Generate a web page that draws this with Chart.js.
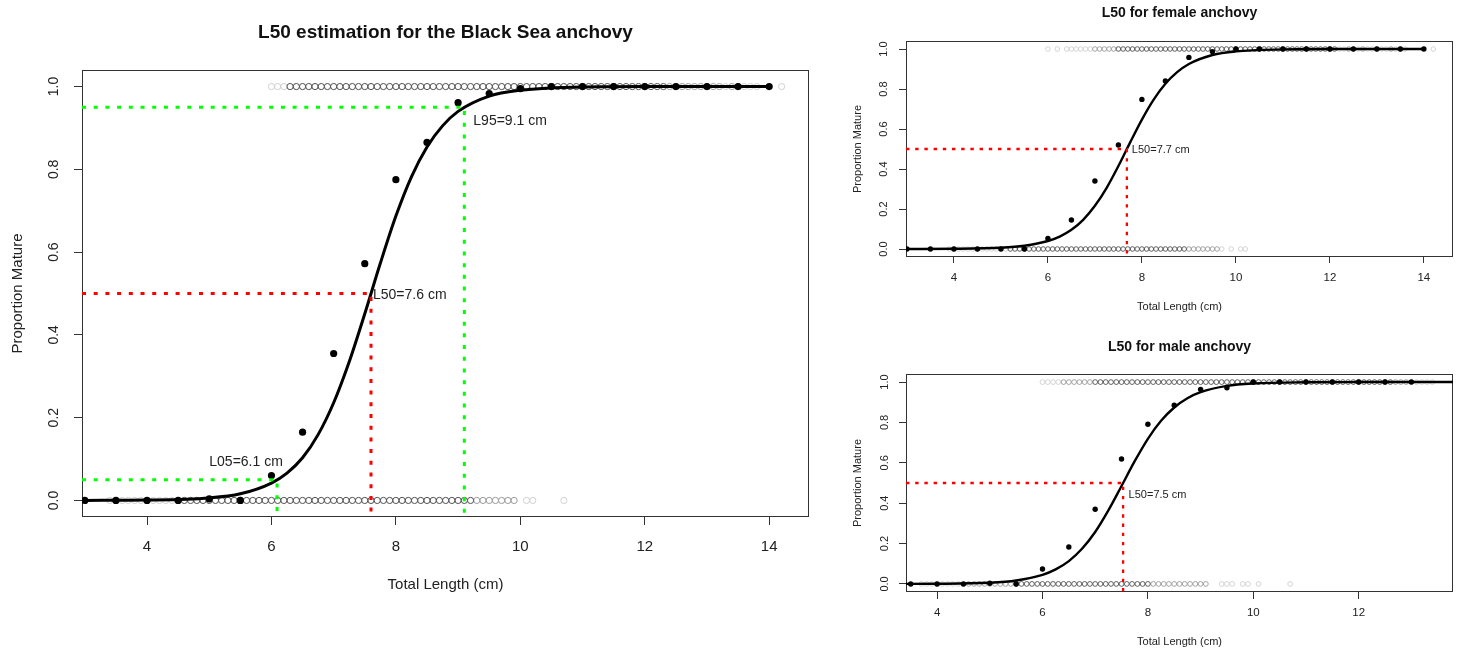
<!DOCTYPE html>
<html lang="en">
<head>
<meta charset="UTF-8">
<title>L50 estimation for the Black Sea anchovy</title>
<script src="https://cdn.jsdelivr.net/npm/chart.js@4.4.1/dist/chart.umd.min.js"></script>
<style>
  body { margin: 0; background: #fff; }
  .wrap { position: relative; width: 1461px; height: 650px; }
  canvas { position: absolute; }
  #allChart { left: 0; top: 0; }
  #femaleChart { left: 840px; top: 0; }
  #maleChart { left: 840px; top: 325px; }
</style>
</head>
<body>
<div class="wrap">
  <canvas id="allChart" width="840" height="650"></canvas>
  <canvas id="femaleChart" width="621" height="325"></canvas>
  <canvas id="maleChart" width="621" height="325"></canvas>
</div>

<script>
  const FONT = '"Liberation Sans", Arial, sans-serif';

  // axis ticks
  const yTicks = [0, 0.2, 0.4, 0.6, 0.8, 1.0];
  const xTicks = [4, 6, 8, 10, 12, 14];
  const maleXTicks = [4, 6, 8, 10, 12];
  const cutProps = [0.05, 0.5, 0.95];

  // ---- all fish ----
  // proportion mature per 0.5 cm length class
  const allLen = [3, 3.5, 4, 4.5, 5, 5.5, 6, 6.5, 7, 7.5, 8, 8.5, 9, 9.5, 10, 10.5, 11, 11.5, 12, 12.5, 13, 13.5, 14];
  const allProp = [0, 0, 0, 0, 0.004, 0, 0.06, 0.165, 0.355, 0.572, 0.775, 0.865, 0.961, 0.983, 0.995, 1, 1, 1, 1, 1, 1, 1, 1];
  // fitted logistic curve
  const fitLen = [3, 4, 5, 5.5, 6, 6.25, 6.5, 6.75, 7, 7.25, 7.5, 7.75, 8, 8.25, 8.5, 8.75, 9, 9.5, 10, 11, 12, 14];
  const allFit = [0.0001, 0.0009, 0.006, 0.016, 0.042, 0.066, 0.103, 0.159, 0.236, 0.335, 0.451, 0.573, 0.687, 0.782, 0.854, 0.905, 0.940, 0.977, 0.991, 0.999, 1, 1];
  const allL05 = 6.09, allL50 = 7.6, allL95 = 9.1;
  // individual fish (mature at 1, immature at 0), by how dark the overplotted rings look
  const allMatDark = [6.3, 6.4, 6.5, 6.6, 6.7, 6.8, 6.9, 7.0, 7.1, 7.2, 7.3, 7.4, 7.5, 7.6, 7.7, 7.8, 7.9, 8.0, 8.1, 8.2,
    8.3, 8.4, 8.5, 8.6, 8.7, 8.8, 8.9, 9.0, 9.1, 9.2, 9.3, 9.4, 9.5, 9.6, 9.7, 9.8, 9.9, 10.0, 10.1, 10.2, 10.3, 10.4,
    10.5, 10.6, 10.7, 10.8, 10.9, 11.0, 11.1, 11.2, 11.3, 11.4, 11.5, 11.6, 11.7, 11.8, 11.9, 12.0, 12.1, 12.2, 12.3];
  const allMatMid = [12.4, 12.5, 12.6, 12.7, 12.8, 12.9, 13.0, 13.1, 13.2, 13.4, 13.5];
  const allMatLight = [6.0, 6.1, 6.2, 13.3, 13.6, 13.7, 13.8, 14.2];
  const allImmDark = [4.6, 4.7, 4.8, 4.9, 5.0, 5.1, 5.2, 5.3, 5.4, 5.5, 5.6, 5.7, 5.8, 5.9, 6.0, 6.1, 6.2, 6.3, 6.4,
    6.5, 6.6, 6.7, 6.8, 6.9, 7.0, 7.1, 7.2, 7.3, 7.4, 7.5, 7.6, 7.7, 7.8, 7.9, 8.0, 8.1, 8.2, 8.3, 8.4, 8.5, 8.6, 8.7,
    8.8, 8.9, 9.0, 9.1, 9.2];
  const allImmMid = [9.3, 9.4, 9.5, 9.6, 9.7, 9.8, 9.9];
  const allImmLight = [3.4, 3.5, 3.6, 3.7, 3.8, 3.9, 4.0, 4.1, 4.2, 4.3, 4.4, 4.5, 10.1, 10.2, 10.7];

  // ---- females ----
  const femLen = [3, 3.5, 4, 4.5, 5, 5.5, 6, 6.5, 7, 7.5, 8, 8.5, 9, 9.5, 10, 10.5, 11, 11.5, 12, 12.5, 13, 13.5, 14];
  const femProp = [0, 0, 0, 0, 0, 0, 0.053, 0.145, 0.34, 0.52, 0.748, 0.84, 0.958, 0.987, 1, 1, 1, 1, 1, 1, 1, 1, 1];
  const femFit = [0.0001, 0.0009, 0.006, 0.016, 0.040, 0.062, 0.096, 0.146, 0.216, 0.306, 0.415, 0.533, 0.647, 0.747, 0.826, 0.884, 0.925, 0.970, 0.988, 0.998, 1, 1];
  const femL50 = 7.68;
  const femMatDark = [7.5, 7.6, 7.7, 7.8, 7.9, 8.0, 8.1, 8.2, 8.3, 8.4, 8.5, 8.6, 8.7, 8.8, 8.9, 9.0, 9.1, 9.2, 9.3,
    9.4, 9.5, 9.6, 9.7, 9.8, 9.9, 10.0, 10.1, 10.2, 10.3, 10.4, 10.5, 10.6, 10.7, 10.8, 10.9, 11.0, 11.1, 11.2, 11.3,
    11.4, 11.5, 11.6, 11.7, 11.8, 11.9, 12.0, 12.1];
  const femMatMid = [7.0, 7.1, 7.2, 7.3, 7.4, 12.4, 12.7, 13.0, 13.3, 13.5];
  const femMatLight = [6.0, 6.2, 6.4, 6.5, 6.6, 6.7, 6.8, 6.9, 12.2, 12.3, 12.5, 12.6, 12.8, 12.9, 13.1, 13.2, 13.4, 13.6, 14.2];
  const femImmDark = [5.2, 5.3, 5.4, 5.5, 5.6, 5.7, 5.8, 5.9, 6.0, 6.1, 6.2, 6.3, 6.4, 6.5, 6.6, 6.7, 6.8, 6.9, 7.0,
    7.1, 7.2, 7.3, 7.4, 7.5, 7.6, 7.7, 7.8, 7.9, 8.0, 8.1, 8.2, 8.3, 8.4, 8.5, 8.6, 8.7, 8.8, 8.9];
  const femImmMid = [9.0, 9.1, 9.2, 9.3, 9.4, 9.5, 9.6];
  const femImmLight = [3.9, 4.0, 4.1, 4.2, 4.3, 4.4, 4.5, 4.6, 4.7, 4.8, 4.9, 5.0, 5.1, 9.7, 9.9, 10.1, 10.2];

  // ---- males ----
  const maleLen = [3.5, 4, 4.5, 5, 5.5, 6, 6.5, 7, 7.5, 8, 8.5, 9, 9.5, 10, 10.5, 11, 11.5, 12, 12.5, 13];
  const maleProp = [0, 0, 0, 0.003, 0, 0.074, 0.183, 0.37, 0.619, 0.791, 0.885, 0.964, 0.972, 1, 1, 1, 1, 1, 1, 1];
  const maleFit = [0.0001, 0.0009, 0.006, 0.017, 0.045, 0.072, 0.113, 0.174, 0.257, 0.364, 0.485, 0.608, 0.719, 0.808, 0.874, 0.920, 0.950, 0.981, 0.993, 0.999, 1, 1];
  const maleL50 = 7.53;
  const maleMatDark = [7.0, 7.1, 7.2, 7.3, 7.4, 7.5, 7.6, 7.7, 7.8, 7.9, 8.0, 8.1, 8.2, 8.3, 8.4, 8.5, 8.6, 8.7, 8.8,
    8.9, 9.0, 9.1, 9.2, 9.3, 9.4, 9.5, 9.6, 9.7, 9.8, 9.9, 10.0, 10.1, 10.2, 10.3, 10.4, 10.5, 10.6, 10.7, 10.8, 10.9,
    11.0, 11.1, 11.2, 11.3, 11.4, 11.5, 11.6, 11.7, 11.8, 11.9, 12.0, 12.1, 12.2, 12.3, 12.4, 12.5, 12.6];
  const maleMatMid = [6.4, 6.5, 6.6, 6.7, 6.8, 6.9, 12.7, 12.8, 12.9];
  const maleMatLight = [6.0, 6.1, 6.2, 6.3, 13.0, 13.1, 13.2, 13.3, 13.4];
  const maleImmDark = [5.5, 5.6, 5.7, 5.8, 5.9, 6.0, 6.1, 6.2, 6.3, 6.4, 6.5, 6.6, 6.7, 6.8, 6.9, 7.0, 7.1, 7.2, 7.3,
    7.4, 7.5, 7.6, 7.7, 7.8, 7.9, 8.0];
  const maleImmMid = [4.6, 4.7, 4.8, 4.9, 5.0, 5.1, 5.2, 5.3, 5.4, 8.1, 8.2, 8.3, 8.4, 8.5, 8.6, 8.7, 8.8, 8.9, 9.0, 9.1];
  const maleImmLight = [3.7, 3.8, 3.9, 4.0, 4.1, 4.2, 4.3, 4.4, 4.5, 9.4, 9.5, 9.6, 9.8, 9.9, 10.1, 10.7];

  const YMIN = -0.04, YMAX = 1.04;
  const GREEN = '#00ff00', RED = '#ff0000';
  const SHADES = { dark: '#505050', mid: '#9a9a9a', light: '#cfcfcf' };

  function pts(xs, ys) {
    return xs.map((x, i) => ({ x: x, y: Array.isArray(ys) ? ys[i] : ys }));
  }

  // box, titles and the Lxx labels, drawn in plot coordinates
  function decor(o) {
    return {
      id: 'decor',
      beforeDatasetsDraw(chart) {
        const { ctx, chartArea: a } = chart;
        ctx.save();
        ctx.strokeStyle = '#333';
        ctx.lineWidth = 1;
        ctx.strokeRect(a.left + 0.5, a.top + 0.5, a.right - a.left - 1, a.bottom - a.top - 1);
        ctx.restore();
      },
      afterDatasetsDraw(chart) {
        const { ctx, chartArea: a, scales } = chart;
        const cx = (a.left + a.right) / 2, cy = (a.top + a.bottom) / 2;
        ctx.save();
        ctx.fillStyle = '#111';
        ctx.textBaseline = 'middle';
        ctx.textAlign = 'center';
        ctx.font = 'bold ' + o.titleSize + 'px ' + FONT;
        ctx.fillText(o.title, cx, o.titleY);
        ctx.fillStyle = '#222';
        ctx.font = o.axisSize + 'px ' + FONT;
        ctx.fillText('Total Length (cm)', cx, o.xTitleY);
        ctx.save();
        ctx.translate(o.yTitleX, cy);
        ctx.rotate(-Math.PI / 2);
        ctx.fillText('Proportion Mature', 0, 0);
        ctx.restore();
        ctx.font = o.markSize + 'px ' + FONT;
        o.marks.forEach(m => {
          ctx.textAlign = m.align;
          ctx.fillText(m.text, scales.x.getPixelForValue(m.x) + m.dx, scales.y.getPixelForValue(m.y) + m.dy);
        });
        ctx.restore();
      }
    };
  }

  function makeChart(id, d, s) {
    const datasets = [];
    // dotted guide lines
    d.cuts.forEach(c => {
      datasets.push({
        data: [{ x: d.xRange[0], y: c.p }, { x: c.len, y: c.p }, { x: c.len, y: YMIN }],
        showLine: true, borderColor: c.color, borderWidth: s.segW, borderDash: s.dash,
        borderCapStyle: 'butt', pointRadius: 0, order: 0
      });
    });
    // fitted curve
    datasets.push({
      data: pts(fitLen, d.fit), showLine: true, borderColor: '#000', borderWidth: s.curveW,
      pointRadius: 0, cubicInterpolationMode: 'monotone', order: 1
    });
    // class proportions
    datasets.push({
      data: pts(d.len, d.prop), pointRadius: s.dot, pointBackgroundColor: '#000',
      pointBorderColor: '#000', pointBorderWidth: 0, order: 2
    });
    // raw fish rings
    [['dark', d.matDark, d.immDark], ['mid', d.matMid, d.immMid], ['light', d.matLight, d.immLight]].forEach(g => {
      const ring = {
        pointRadius: s.ring, pointBackgroundColor: 'rgba(0,0,0,0)',
        pointBorderColor: SHADES[g[0]], pointBorderWidth: s.ringW,
        order: g[0] === 'dark' ? 3 : g[0] === 'mid' ? 4 : 5
      };
      datasets.push(Object.assign({ data: pts(g[1], 1) }, ring));
      datasets.push(Object.assign({ data: pts(g[2], 0) }, ring));
    });

    return new Chart(document.getElementById(id), {
      type: 'scatter',
      data: { datasets: datasets },
      options: {
        responsive: false,
        animation: false,
        layout: { padding: { left: 0, top: s.padTop, right: s.padRight, bottom: 0 } },
        plugins: { legend: { display: false }, tooltip: { enabled: false } },
        scales: {
          x: {
            type: 'linear', min: d.xRange[0], max: d.xRange[1],
            afterBuildTicks: ax => { ax.ticks = d.xTicks.map(v => ({ value: v })); },
            afterFit: ax => { ax.height = s.xH; },
            border: { display: false },
            grid: { drawOnChartArea: false, drawTicks: true, tickLength: s.xTick, tickColor: '#333', color: '#333' },
            ticks: { autoSkip: false, maxRotation: 0, padding: s.xPad, color: '#222',
              font: { size: s.xFont, family: FONT }, callback: v => String(v) }
          },
          y: {
            type: 'linear', min: YMIN, max: YMAX,
            afterBuildTicks: ax => { ax.ticks = yTicks.map(v => ({ value: v })); },
            afterFit: ax => { ax.width = s.yW; },
            border: { display: false },
            grid: { drawOnChartArea: false, drawTicks: true, tickLength: s.yTick, tickColor: '#333', color: '#333' },
            ticks: { autoSkip: false, minRotation: 90, maxRotation: 90, crossAlign: 'center',
              padding: s.yPad, color: '#222', font: { size: s.yFont, family: FONT },
              callback: v => v.toFixed(1) }
          }
        }
      },
      plugins: [decor(s.text)]
    });
  }

  const lab = (v, name) => name + '=' + v.toFixed(1) + ' cm';

  makeChart('allChart', {
    xRange: [2.955, 14.64], xTicks: xTicks,
    len: allLen, prop: allProp, fit: allFit,
    matDark: allMatDark, matMid: allMatMid, matLight: allMatLight,
    immDark: allImmDark, immMid: allImmMid, immLight: allImmLight,
    cuts: [
      { len: allL05, p: cutProps[0], color: GREEN },
      { len: allL95, p: cutProps[2], color: GREEN },
      { len: allL50, p: cutProps[1], color: RED }
    ]
  }, {
    padTop: 70, padRight: 31, yW: 82, xH: 133,
    ring: 3.1, ringW: 1, dot: 3.6, curveW: 3, segW: 3, dash: [4, 7.7],
    xTick: 8, yTick: 8, xPad: 13, yPad: 10, xFont: 15, yFont: 14,
    text: {
      title: 'L50 estimation for the Black Sea anchovy', titleSize: 19, titleY: 33,
      axisSize: 15, xTitleY: 585, yTitleX: 18, markSize: 14,
      marks: [
        { text: lab(allL05, 'L05'), x: allL05, y: cutProps[0], dx: -31, dy: -18, align: 'center' },
        { text: lab(allL50, 'L50'), x: allL50, y: cutProps[1], dx: 2, dy: 2, align: 'left' },
        { text: lab(allL95, 'L95'), x: allL95, y: cutProps[2], dx: 9, dy: 14, align: 'left' }
      ]
    }
  });

  makeChart('femaleChart', {
    xRange: [2.98, 14.62], xTicks: xTicks,
    len: femLen, prop: femProp, fit: femFit,
    matDark: femMatDark, matMid: femMatMid, matLight: femMatLight,
    immDark: femImmDark, immMid: femImmMid, immLight: femImmLight,
    cuts: [{ len: femL50, p: cutProps[1], color: RED }]
  }, {
    padTop: 41, padRight: 8, yW: 66, xH: 68,
    ring: 2.3, ringW: 0.9, dot: 2.7, curveW: 2.4, segW: 2.3, dash: [3.4, 5.8],
    xTick: 6, yTick: 7, xPad: 8, yPad: 7.5, xFont: 11.5, yFont: 11,
    text: {
      title: 'L50 for female anchovy', titleSize: 14, titleY: 13,
      axisSize: 11, xTitleY: 307, yTitleX: 18, markSize: 11,
      marks: [{ text: lab(femL50, 'L50'), x: femL50, y: cutProps[1], dx: 5, dy: 1, align: 'left' }]
    }
  });

  makeChart('maleChart', {
    xRange: [3.41, 13.79], xTicks: maleXTicks,
    len: maleLen, prop: maleProp, fit: maleFit,
    matDark: maleMatDark, matMid: maleMatMid, matLight: maleMatLight,
    immDark: maleImmDark, immMid: maleImmMid, immLight: maleImmLight,
    cuts: [{ len: maleL50, p: cutProps[1], color: RED }]
  }, {
    padTop: 49, padRight: 8, yW: 66, xH: 58,
    ring: 2.4, ringW: 0.9, dot: 2.7, curveW: 2.4, segW: 2.3, dash: [3.4, 5.8],
    xTick: 7, yTick: 7, xPad: 7, yPad: 6.5, xFont: 11.5, yFont: 11,
    text: {
      title: 'L50 for male anchovy', titleSize: 14, titleY: 22,
      axisSize: 11, xTitleY: 317, yTitleX: 18, markSize: 11,
      marks: [{ text: lab(maleL50, 'L50'), x: maleL50, y: cutProps[1], dx: 5.5, dy: 12, align: 'left' }]
    }
  });
</script>
</body>
</html>
